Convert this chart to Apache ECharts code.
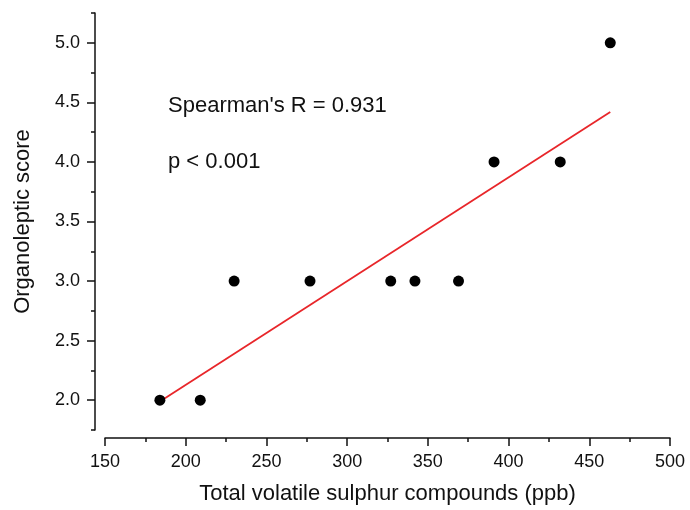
<!DOCTYPE html>
<html>
<head>
<meta charset="utf-8">
<script src="https://cdn.jsdelivr.net/npm/echarts@6/dist/echarts.min.js"></script>
<style>
  html,body{margin:0;padding:0;background:#fff;}
  #main{width:690px;height:510px;}
</style>
</head>
<body>
<div id="main"></div>
<script>
// data
var sulphur = [184, 209, 230, 277, 327, 342, 369, 391, 432, 463];
var score   = [2, 2, 3, 3, 3, 3, 3, 4, 4, 5];
// fitted line end points
var fitX = [184, 463];
var fitY = [1.99, 4.42];
// tick labels
var yTicks = [2.0, 2.5, 3.0, 3.5, 4.0, 4.5, 5.0];

var font = "'Liberation Sans', Arial, sans-serif";
var ink = '#111';

var myChart = echarts.init(document.getElementById('main'));

var pts = [];
for (var i = 0; i < sulphur.length; i++) {
    pts.push([sulphur[i], score[i]]);
}
var fit = [];
for (var j = 0; j < fitX.length; j++) {
    fit.push([fitX[j], fitY[j]]);
}

var option = {
    animation: false,
    grid: {left: 105, right: 20, top: 13, bottom: 80},
    xAxis: {
        type: 'value',
        min: 150, max: 500, interval: 50,
        offset: 8,
        name: 'Total volatile sulphur compounds (ppb)',
        nameLocation: 'middle',
        nameGap: 45,
        nameTextStyle: {fontFamily: font, fontSize: 22, color: ink},
        axisLine: {onZero: false, lineStyle: {color: ink, width: 1.5}},
        axisTick: {length: 8, lineStyle: {color: ink, width: 1.5}},
        minorTick: {show: true, splitNumber: 2, length: 4, lineStyle: {color: ink, width: 1.5}},
        axisLabel: {fontFamily: font, fontSize: 18, color: ink, margin: 15},
        splitLine: {show: false}
    },
    yAxis: [{
        type: 'value',
        min: 1.75, max: 5.25, interval: 0.25,
        offset: 10,
        name: 'Organoleptic score',
        nameLocation: 'middle',
        nameGap: 61,
        nameTextStyle: {fontFamily: font, fontSize: 22, color: ink},
        axisLine: {onZero: false, lineStyle: {color: ink, width: 1.5}},
        axisTick: {length: 4, lineStyle: {color: ink, width: 1.5}},
        axisLabel: {show: false},
        splitLine: {show: false}
    }, {
        type: 'value',
        position: 'left',
        min: 1.75, max: 5.25,
        offset: 10,
        axisLine: {show: false},
        axisTick: {show: true, length: 8, customValues: yTicks, lineStyle: {color: ink, width: 1.5}},
        axisLabel: {
            fontFamily: font, fontSize: 18, color: ink, margin: 15,
            customValues: yTicks,
            formatter: function (v) { return v.toFixed(1); }
        },
        splitLine: {show: false}
    }],
    graphic: [
        {type: 'text', left: 168, top: 95, style: {text: "Spearman's R = 0.931", font: '22px ' + font, fill: ink}},
        {type: 'text', left: 168, top: 151, style: {text: 'p < 0.001', font: '22px ' + font, fill: ink}}
    ],
    series: [
        {
            type: 'line',
            data: fit,
            yAxisIndex: 0,
            symbol: 'none',
            lineStyle: {color: '#e8262a', width: 1.8},
            z: 2
        },
        {
            type: 'scatter',
            data: pts,
            yAxisIndex: 0,
            symbol: 'circle',
            symbolSize: 11,
            itemStyle: {color: '#000', opacity: 1},
            z: 3
        }
    ]
};
myChart.setOption(option);
</script>
</body>
</html>
